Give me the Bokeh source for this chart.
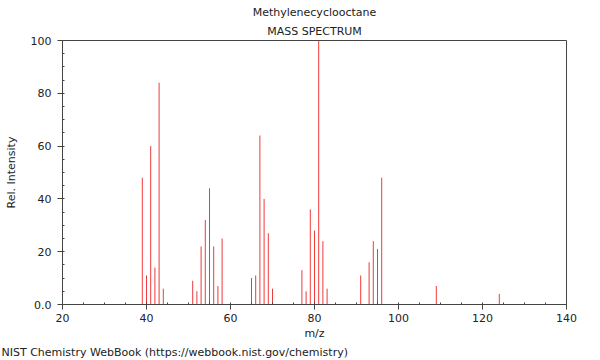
from bokeh.plotting import figure
from bokeh.models import Range1d, FixedTicker, Title, ColumnDataSource
from bokeh.embed import file_html
from bokeh.resources import INLINE

# m/z values and relative intensities
mz = [39, 40, 41, 42, 43, 44,
      51, 52, 53, 54, 55, 56, 57, 58,
      65, 66, 67, 68, 69, 70,
      77, 78, 79, 80, 81, 82, 83,
      91, 93, 94, 95, 96,
      109, 124]
intensity = [48, 11, 60, 14, 84, 6,
             9, 5, 22, 32, 44, 22, 7, 25,
             10, 11, 64, 40, 27, 6,
             13, 5, 36, 28, 100, 24, 6,
             11, 16, 24, 21, 48,
             7, 4]
zeros = [0] * len(mz)

x_major = [20, 40, 60, 80, 100, 120, 140]
y_major = [0, 20, 40, 60, 80, 100]

FONT = "DejaVu Sans"
TXT = "#222222"
AX = "#444444"

p = figure(frame_width=504, frame_height=264,
           x_range=Range1d(20, 140), y_range=Range1d(0, 100),
           output_backend="svg", toolbar_location=None,
           min_border_left=62, min_border_right=26,
           min_border_top=40, min_border_bottom=0,
           background_fill_color="white", border_fill_color="white")

p.title.visible = False
p.add_layout(Title(text="MASS SPECTRUM", align="center", text_font=FONT,
                   text_font_size="11px", text_font_style="normal",
                   text_color=TXT, standoff=5), "above")
p.add_layout(Title(text="Methylenecyclooctane", align="center", text_font=FONT,
                   text_font_size="11px", text_font_style="normal",
                   text_color=TXT, standoff=3), "above")
p.add_layout(Title(text="NIST Chemistry WebBook (https://webbook.nist.gov/chemistry)",
                   align="left", offset=-61, text_font=FONT,
                   text_font_size="11px", text_font_style="normal",
                   text_color=TXT, standoff=2), "below")

p.grid.visible = False
p.outline_line_color = AX
p.outline_line_width = 1

src = ColumnDataSource(dict(mz=mz, y0=zeros, y1=intensity))
p.segment(x0="mz", y0="y0", x1="mz", y1="y1", source=src,
          line_color="#f03a3a", line_width=1)

p.xaxis.ticker = FixedTicker(ticks=x_major, minor_ticks=list(range(20, 141, 5)))
p.yaxis.ticker = FixedTicker(ticks=y_major, minor_ticks=list(range(0, 101, 5)))
p.yaxis.major_label_overrides = {0: "0.0"}

for ax in (p.xaxis[0], p.yaxis[0]):
    ax.axis_line_color = AX
    ax.major_tick_line_color = AX
    ax.minor_tick_line_color = AX
    ax.major_tick_out = 5
    ax.major_tick_in = 0
    ax.minor_tick_out = 0
    ax.minor_tick_in = 2
    ax.major_label_text_font = FONT
    ax.major_label_text_font_size = "11px"
    ax.major_label_text_color = TXT
    ax.axis_label_text_font = FONT
    ax.axis_label_text_font_size = "11px"
    ax.axis_label_text_font_style = "normal"
    ax.axis_label_text_color = TXT

p.xaxis.major_label_standoff = 4
p.xaxis.axis_label_standoff = 2
p.yaxis.major_label_standoff = 6
p.yaxis.axis_label_standoff = 10

p.xaxis.axis_label = "m/z"
p.yaxis.axis_label = "Rel. Intensity"

open("out.html", "w").write(file_html(p, INLINE))
